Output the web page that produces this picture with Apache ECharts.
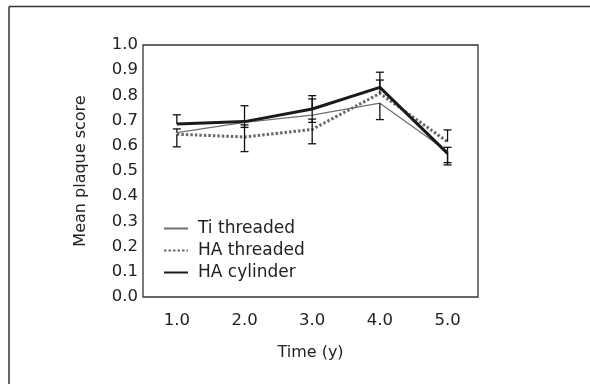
<!DOCTYPE html>
<html>
<head>
<meta charset="utf-8">
<script src="https://cdn.jsdelivr.net/npm/echarts@6/dist/echarts.min.js"></script>
<style>
  html, body { margin: 0; padding: 0; background: #fff; }
  #chart { width: 590px; height: 384px; }
</style>
</head>
<body>
<div id="chart"></div>
<script>
// 时间点 (年)
const years = [1, 2, 3, 4, 5];
const yTicks = [0, 0.1, 0.2, 0.3, 0.4, 0.5, 0.6, 0.7, 0.8, 0.9, 1.0];

// Ti threaded
const tiMean = [0.652, 0.693, 0.722, 0.769, 0.577];
const tiUpper = [0.667, null, 0.786, null, 0.594];
const tiLower = [null, 0.673, 0.693, 0.704, 0.524];

// HA threaded
const haThrMean = [0.646, 0.635, 0.665, 0.808, 0.616];
const haThrUpper = [null, 0.683, 0.706, 0.861, 0.663];
const haThrLower = [0.596, 0.577, 0.608, null, null];

// HA cylinder
const haCylMean = [0.687, 0.696, 0.746, 0.832, 0.570];
const haCylUpper = [0.723, 0.759, 0.799, 0.892, null];
const haCylLower = [null, null, null, null, 0.533];

const FONT = 'DejaVu Sans';

const pairs = (ys) => years.map((x, i) => [x, ys[i]]);
const errData = (mean, lo, hi) => years.map((x, i) => [x, mean[i], lo[i], hi[i]]);

// 误差线
const renderErr = (params, api) => {
    const x = api.value(0);
    const mean = api.value(1);
    const lo = api.value(2);
    const hi = api.value(3);
    const children = [];
    const style = { stroke: '#111', lineWidth: 1.3 };
    const cap = 4;
    [lo, hi].forEach(v => {
        if (v == null || isNaN(v)) return;
        const p0 = api.coord([x, mean]);
        const p1 = api.coord([x, v]);
        children.push({ type: 'line', shape: { x1: p0[0], y1: p0[1], x2: p1[0], y2: p1[1] }, style });
        children.push({ type: 'line', shape: { x1: p1[0] - cap, y1: p1[1], x2: p1[0] + cap, y2: p1[1] }, style });
    });
    return { type: 'group', children };
};

const errSeries = (mean, lo, hi) => ({
    type: 'custom',
    renderItem: renderErr,
    data: errData(mean, lo, hi),
    encode: { x: 0, y: 1 },
    z: 5,
    silent: true
});

var myChart = echarts.init(document.getElementById('chart'));
var option = {
    animation: false,
    backgroundColor: '#fff',
    graphic: [
        { type: 'line', shape: { x1: 9, y1: 6.5, x2: 590, y2: 6.5 }, style: { stroke: '#333', lineWidth: 1.5 } },
        { type: 'line', shape: { x1: 9, y1: 6.5, x2: 9, y2: 384 }, style: { stroke: '#333', lineWidth: 1.5 } }
    ],
    grid: {
        left: 143,
        top: 45,
        right: 112,
        bottom: 87,
        show: true,
        borderColor: '#333',
        borderWidth: 1.3,
        containLabel: false
    },
    legend: {
        orient: 'vertical',
        left: 158,
        top: 215,
        itemWidth: 24,
        itemHeight: 14,
        itemGap: 5,
        itemStyle: { opacity: 0 },
        data: ['Ti threaded', 'HA threaded', 'HA cylinder'],
        textStyle: { fontFamily: FONT, fontSize: 17, color: '#222', padding: [0, 0, 0, 5] }
    },
    xAxis: {
        type: 'value',
        min: 0.5,
        max: 5.45,
        name: 'Time (y)',
        nameLocation: 'middle',
        nameGap: 48,
        nameTextStyle: { fontFamily: FONT, fontSize: 16, color: '#222' },
        axisLine: { show: false },
        axisTick: { show: false },
        splitLine: { show: false },
        axisLabel: {
            customValues: years,
            margin: 15,
            fontFamily: FONT,
            fontSize: 16.5,
            color: '#222',
            formatter: v => v.toFixed(1)
        }
    },
    yAxis: {
        type: 'value',
        min: 0,
        max: 1,
        interval: 0.1,
        name: 'Mean plaque score',
        nameLocation: 'middle',
        nameGap: 54,
        nameTextStyle: { fontFamily: FONT, fontSize: 16, color: '#222' },
        axisLine: { show: false },
        axisTick: { show: false },
        splitLine: { show: false },
        axisLabel: {
            customValues: yTicks,
            margin: 5,
            fontFamily: FONT,
            fontSize: 16.5,
            color: '#222',
            formatter: v => v.toFixed(1)
        }
    },
    series: [
        {
            name: 'Ti threaded',
            type: 'line',
            data: pairs(tiMean),
            symbol: 'none',
            color: '#707070',
            lineStyle: { color: '#707070', width: 1.3 },
            z: 2
        },
        {
            name: 'HA threaded',
            type: 'line',
            data: pairs(haThrMean),
            symbol: 'none',
            color: '#707070',
            lineStyle: { color: '#6a6a6a', width: 3, type: [2.5, 2] },
            z: 3
        },
        {
            name: 'HA cylinder',
            type: 'line',
            data: pairs(haCylMean),
            symbol: 'none',
            color: '#1a1a1a',
            lineStyle: { color: '#1a1a1a', width: 3 },
            z: 4
        },
        errSeries(tiMean, tiLower, tiUpper),
        errSeries(haThrMean, haThrLower, haThrUpper),
        errSeries(haCylMean, haCylLower, haCylUpper)
    ]
};
option && myChart.setOption(option);
</script>
</body>
</html>
